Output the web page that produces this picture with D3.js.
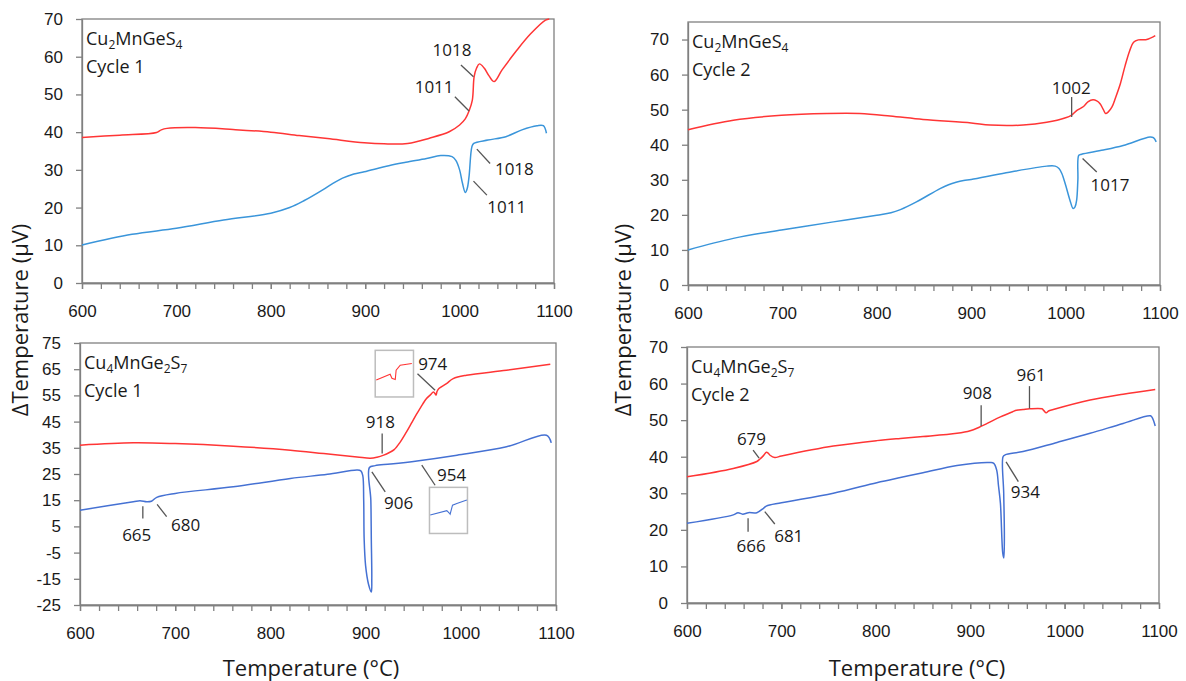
<!DOCTYPE html>
<html>
<head>
<meta charset="utf-8">
<script src="https://cdn.jsdelivr.net/npm/d3@7"></script>
<style>
body { margin: 0; background: #fff; }
svg { font-family: "Open Sans", sans-serif; }
.tick text { font-size: 17px; fill: #1a1a1a; }
.tick line, .domain { stroke: #808080; stroke-width: 1.3; }
</style>
</head>
<body>
<svg id="chart" width="1186" height="681"></svg>
<script>
// DTA curves, [temperature °C, ΔT µV]
var cmsC1Heat = [[600,38.6],[640,39.2],[679,39.9],[684,40.6],[690,41.0],[720,41.2],[760,40.7],[800,40.0],[830,39.1],[860,38.3],[899,37.2],[920,36.9],[945,37.0],[968,38.4],[989,40.1],[1000,41.9],[1006,43.5],[1010,45.6],[1013.5,48.5],[1015.4,54.7],[1018,57.0],[1021,58.1],[1026,57.0],[1031,55.0],[1036.5,53.4],[1045,56.5],[1060,61.5],[1075,66.0],[1091,69.7],[1095,70]];
var cmsC1Cool = [[600,10.1],[653,12.9],[700,14.5],[750,16.7],[800,18.5],[820,20.0],[835,21.8],[855,24.7],[865,26.3],[876,27.8],[888,28.9],[899,29.5],[925,31.1],[943,32.0],[965,33.0],[980,33.8],[992,33.5],[996,32.5],[1000,30.0],[1003,26.5],[1006,24.0],[1008,25.0],[1010,28.2],[1013,36.1],[1015,37.0],[1030,37.9],[1049,38.8],[1066,40.6],[1082,41.7],[1088.7,41.7],[1092,39.7]];

var cmsC2Heat = [[600,44.3],[648,47.0],[699,48.4],[747,48.9],[782,48.9],[814,48.2],[849,47.2],[900,46.2],[920,45.6],[955,45.6],[980,46.4],[1000,47.7],[1006,48.4],[1012,49.8],[1019,50.9],[1024,52.3],[1029,52.8],[1033,52.5],[1036.5,51.7],[1040,50.0],[1042.5,48.9],[1045,49.3],[1049,50.7],[1053,53.5],[1058,57.4],[1063,62.5],[1068,66.9],[1072,69.2],[1077,69.9],[1086,70.0],[1095,71.1]];
var cmsC2Cool = [[600,10.0],[648,13.3],[699,15.7],[754,18.0],[800,19.9],[815,20.6],[825,21.5],[842,23.7],[867,27.5],[876,28.6],[884,29.3],[892,29.8],[900,30.1],[937,32.0],[980,33.9],[989,33.9],[993,33.2],[996,31.8],[1000,28.5],[1004.6,24.2],[1008,21.8],[1010,22.3],[1011.7,24.2],[1013,30],[1014,37.0],[1017,37.3],[1040,38.5],[1061,39.8],[1089.4,42.2],[1093,42.0],[1096,40.8]];

var cmgsC1Heat = [[600,36.0],[656,36.9],[700,36.6],[761,35.6],[821,34.1],[856,32.8],[891,31.5],[905,31.0],[912,31.4],[919,32.2],[925,33.2],[930,34.3],[936,37.0],[942,40.5],[948,44.3],[954,48.1],[960,51.7],[964,53.8],[968,55.2],[971.3,56.3],[973,55.6],[974,55.1],[975,56.5],[977,57.6],[985,59.5],[992,61.4],[1006,62.7],[1048,64.6],[1094,66.9]];
var cmgsC1Cool = [[600,11.2],[656,14.4],[663,14.8],[670,14.4],[675,14.6],[680.6,16.1],[700,17.6],[761,20.1],[821,23.3],[860,24.9],[891,26.5],[895,26.2],[897,24.5],[898,15],[898.5,0],[900,-10],[903,-17],[906,-20],[906.5,-15],[906,0],[905.5,15],[904,27.5],[910,28.2],[926,28.8],[954,30.0],[996,32.2],[1048,35.4],[1090,39.8],[1095,36.9]];

var cmgsC2Heat = [[600,34.5],[649,36.8],[674,38.7],[677,39.3],[681,40.3],[684,41.2],[686,41.0],[688,40.4],[693,39.8],[700,40.2],[755,42.9],[801,44.4],[826,45.0],[850,45.5],[886,46.4],[900,47.1],[909,48.0],[918,49.1],[932,50.9],[945,52.3],[949,52.7],[956,52.9],[963,53.1],[976,53.1],[978,52.6],[980.5,52.0],[983,52.5],[988,52.9],[1027,55.5],[1062,57.1],[1096,58.4]];
var cmgsC2Cool = [[600,21.8],[649,24.1],[654,24.7],[659,24.3],[665,24.7],[674,24.7],[681,25.9],[684,26.5],[700,27.4],[755,30.0],[801,32.9],[826,34.3],[850,35.6],[886,37.6],[921,38.4],[925,38.2],[928,36.4],[930,32],[932,27.3],[934.5,13.6],[935.6,12.3],[936.2,18.2],[935.5,30],[934.8,40.0],[937,40.5],[956,41.4],[992,43.9],[1027,46.4],[1062,49.1],[1091,51.2],[1093,50.6],[1096,48.4]];

// zoomed insets for the small 974 / 954 events
var inset974 = [[960.8,55.8],[971.7,57.8],[973.1,56.4],[975.7,56.0],[976.4,59.2],[979.6,60.9],[988.7,61.5]];
var inset954 = [[940.6,25.4],[953.7,26.9],[955.8,26.0],[956.3,25.7],[958.2,28.8],[961.6,29.4],[969.5,30.6]];

// peak labels: text at (tx,ty), leader from (x1,y1) to (x2,y2), all in data units
var cmsC1Notes = [
  {label:"1018", tx:992, ty:60.2, x1:1001.4, y1:57.8, x2:1014.7, y2:54.7},
  {label:"1011", tx:973, ty:50.4, x1:995, y1:49.4, x2:1010, y2:45.6},
  {label:"1018", tx:1058, ty:28.6, x1:1018.3, y1:35.5, x2:1032.3, y2:31.7},
  {label:"1011", tx:1050, ty:18.6, x1:1014.7, y1:27.0, x2:1028.9, y2:23.3}
];
var cmsC2Notes = [
  {label:"1002", tx:1006, ty:54.4, x1:1006.4, y1:53.6, x2:1006.4, y2:47.9},
  {label:"1017", tx:1047, ty:26.8, x1:1018, y1:36.1, x2:1033, y2:32.2}
];
var cmgsC1Notes = [
  {label:"665", tx:659.6, ty:-0.5, x1:666, y1:12.7, x2:666, y2:8.0},
  {label:"680", tx:711, ty:3.3, x1:681, y1:13.4, x2:691, y2:8.7},
  {label:"918", tx:915.6, ty:42.7, x1:917.4, y1:40.5, x2:917.4, y2:32.8},
  {label:"974", tx:970.5, ty:64.8, x1:954.5, y1:63.3, x2:973, y2:57.0},
  {label:"906", tx:934.6, ty:11.5, x1:906.6, y1:25.8, x2:920.6, y2:18.2},
  {label:"954", tx:990.3, ty:22.4, x1:959, y1:28.4, x2:973, y2:20.7}
];
var cmgsC2Notes = [
  {label:"679", tx:668.3, ty:43.3, x1:670, y1:41.8, x2:676.4, y2:39.6},
  {label:"666", tx:668, ty:13.9, x1:664.7, y1:23.2, x2:664.7, y2:19.5},
  {label:"681", tx:707.8, ty:16.6, x1:682.4, y1:25.0, x2:693, y2:21.6},
  {label:"908", tx:907.6, ty:55.7, x1:911.6, y1:54.1, x2:911.6, y2:48.4},
  {label:"961", tx:964.6, ty:60.7, x1:962.8, y1:59.3, x2:962.8, y2:53.2},
  {label:"934", tx:958.5, ty:28.7, x1:938, y1:38.6, x2:951, y2:33.2}
];

var tempTicks = [600, 700, 800, 900, 1000, 1100];
var tempMinor = d3.range(600, 1101, 20);

var red = "#ff3535", blueTop = "#3a95da", blueBottom = "#4571d3";

var panels = [
  {heat: cmsC1Heat, cool: cmsC1Cool, blue: blueTop, notes: cmsC1Notes,
   formula: [["Cu",0],["2",1],["MnGeS",0],["4",1]], cycle: "Cycle 1",
   left: 82, right: 554, top: 19, bottom: 283, yDomain: [0, 70], yTicks: d3.range(0, 71, 10), insets: []},
  {heat: cmsC2Heat, cool: cmsC2Cool, blue: blueTop, notes: cmsC2Notes,
   formula: [["Cu",0],["2",1],["MnGeS",0],["4",1]], cycle: "Cycle 2",
   left: 688, right: 1160, top: 22, bottom: 285, yDomain: [0, 75], yTicks: d3.range(0, 71, 10), insets: []},
  {heat: cmgsC1Heat, cool: cmgsC1Cool, blue: blueBottom, notes: cmgsC1Notes,
   formula: [["Cu",0],["4",1],["MnGe",0],["2",1],["S",0],["7",1]], cycle: "Cycle 1",
   left: 80, right: 556, top: 343, bottom: 605, yDomain: [-25, 75], yTicks: d3.range(-25, 76, 10),
   insets: [
     {data: inset974, color: red, box: [910.1, 950.3, 54.4, 72.2], xd: [960, 990], yd: [50, 66]},
     {data: inset954, color: blueBottom, box: [967.1, 1007.0, 2.3, 19.9], xd: [940, 970], yd: [19, 35]}
   ]},
  {heat: cmgsC2Heat, cool: cmgsC2Cool, blue: blueBottom, notes: cmgsC2Notes,
   formula: [["Cu",0],["4",1],["MnGe",0],["2",1],["S",0],["7",1]], cycle: "Cycle 2",
   left: 687, right: 1159, top: 347, bottom: 603, yDomain: [0, 70], yTicks: d3.range(0, 71, 10), insets: []}
];

var svg = d3.select("#chart");

panels.forEach(function(p) {
    var x = d3.scaleLinear().domain([600, 1100]).range([p.left, p.right]);
    var y = d3.scaleLinear().domain(p.yDomain).range([p.bottom, p.top]);
    var g = svg.append("g");

    g.append("rect")
        .attr("x", p.left).attr("y", p.top)
        .attr("width", p.right - p.left).attr("height", p.bottom - p.top)
        .attr("fill", "none").attr("stroke", "#808080").attr("stroke-width", 1.3);

    g.append("g")
        .attr("transform", "translate(0," + p.bottom + ")")
        .call(d3.axisBottom(x).tickValues(tempMinor).tickSize(6).tickFormat("").tickSizeOuter(0));

    g.append("g")
        .attr("transform", "translate(0," + p.bottom + ")")
        .call(d3.axisBottom(x).tickValues(tempTicks).tickSize(6).tickPadding(16)
            .tickFormat(d3.format("d")).tickSizeOuter(0));

    g.append("g")
        .attr("transform", "translate(" + p.left + ",0)")
        .call(d3.axisLeft(y).tickValues(p.yTicks).tickSize(6).tickPadding(13)
            .tickFormat(function(d) { return String(d); }).tickSizeOuter(0));

    var line = d3.line()
        .x(function(d) { return x(d[0]); })
        .y(function(d) { return y(d[1]); })
        .curve(d3.curveCatmullRom.alpha(0.5));

    g.append("path").datum(p.heat)
        .attr("d", line).attr("fill", "none")
        .attr("stroke", red).attr("stroke-width", 1.5);

    g.append("path").datum(p.cool)
        .attr("d", line).attr("fill", "none")
        .attr("stroke", p.blue).attr("stroke-width", 1.5);

    // leader lines + labels
    p.notes.forEach(function(n) {
        g.append("line")
            .attr("x1", x(n.x1)).attr("y1", y(n.y1))
            .attr("x2", x(n.x2)).attr("y2", y(n.y2))
            .attr("stroke", "#555").attr("stroke-width", 1.3);
        g.append("text")
            .attr("x", x(n.tx)).attr("y", y(n.ty))
            .attr("text-anchor", "middle")
            .style("font-size", "17px").style("fill", "#1a1a1a")
            .text(n.label);
    });

    // little zoom boxes
    p.insets.forEach(function(ins) {
        var bx0 = x(ins.box[0]), bx1 = x(ins.box[1]), by0 = y(ins.box[3]), by1 = y(ins.box[2]);
        g.append("rect")
            .attr("x", bx0).attr("y", by0)
            .attr("width", bx1 - bx0).attr("height", by1 - by0)
            .attr("fill", "#fff").attr("stroke", "#bdbdbd").attr("stroke-width", 1.5);
        var ix = d3.scaleLinear().domain(ins.xd).range([bx0, bx1]);
        var iy = d3.scaleLinear().domain(ins.yd).range([by1, by0]);
        g.append("path").datum(ins.data)
            .attr("d", d3.line().x(function(d) { return ix(d[0]); }).y(function(d) { return iy(d[1]); }))
            .attr("fill", "none").attr("stroke", ins.color).attr("stroke-width", 1.1);
    });

    // sample name + cycle
    var t = g.append("text")
        .attr("x", p.left + 4).attr("y", p.top + 26)
        .style("font-size", "18px").style("fill", "#1a1a1a");
    var shifted = false;
    p.formula.forEach(function(part) {
        var sub = part[1] === 1;
        var dy = 0;
        if (sub && !shifted) { dy = 4; shifted = true; }
        else if (!sub && shifted) { dy = -4; shifted = false; }
        t.append("tspan").attr("dy", dy).style("font-size", sub ? "12px" : "18px").text(part[0]);
    });
    g.append("text")
        .attr("x", p.left + 4).attr("y", p.top + 54)
        .style("font-size", "18px").style("fill", "#1a1a1a")
        .text(p.cycle);
});

// axis titles
[28, 631].forEach(function(xp) {
    svg.append("text")
        .attr("transform", "translate(" + xp + ",320) rotate(-90)")
        .attr("text-anchor", "middle")
        .style("font-size", "22px").style("fill", "#1a1a1a")
        .text("ΔTemperature (μV)");
});
[311, 917].forEach(function(xp) {
    svg.append("text")
        .attr("x", xp).attr("y", 676)
        .attr("text-anchor", "middle")
        .style("font-size", "22px").style("fill", "#1a1a1a")
        .text("Temperature (°C)");
});
</script>
</body>
</html>
